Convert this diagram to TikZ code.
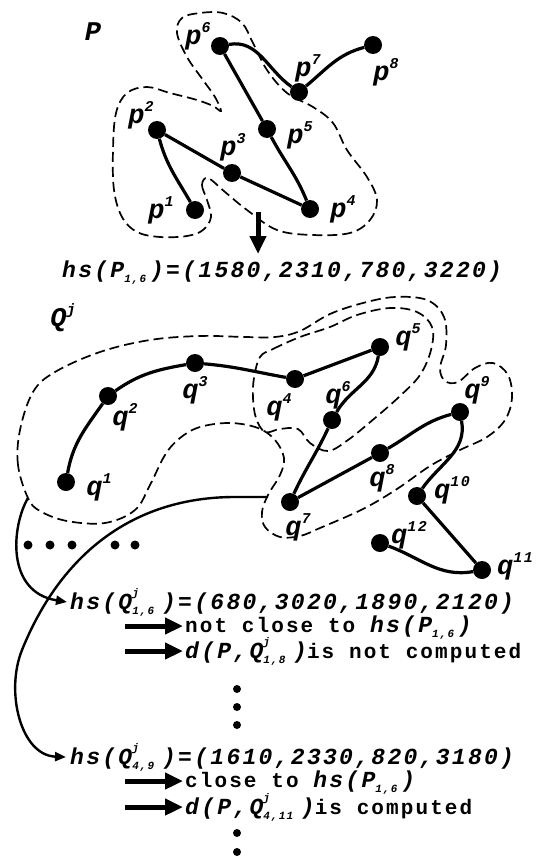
\documentclass[tikz,border=0pt]{standalone}
\usepackage{fontspec}
\setmainfont{Liberation Mono}[LetterSpace=10]
\usetikzlibrary{arrows.meta}
\newcommand\mysub[1]{\raisebox{-0.25em}{\fontsize{11}{11}\selectfont #1}}
\newcommand\mysupsub[2]{\makebox[0pt][l]{\raisebox{0.55em}{\fontsize{11}{11}\selectfont #1}}\raisebox{-0.25em}{\fontsize{11}{11}\selectfont #2}\hspace{4pt}}
\newcommand\mysup[1]{\raisebox{0.45em}{\fontsize{15}{15}\selectfont #1}}
\newcommand\myup{\fontsize{21}{23}\selectfont\upshape}
\newcommand\myit{\fontsize{23}{25}\selectfont\itshape}
\begin{document}
\begin{tikzpicture}[x=1pt,y=1pt,
  dot/.style={circle,fill=black,inner sep=0pt,minimum size=18pt},
  smalldot/.style={circle,fill=black,inner sep=0pt,minimum size=8pt},
  curve/.style={line width=3.2pt},
  outline/.style={line width=1.7pt,dash pattern=on 10pt off 5pt},
  lbl/.style={font=\fontsize{27}{30}\selectfont\bfseries\itshape,inner sep=0pt},
  txt/.style={font=\fontsize{23}{25}\selectfont\bfseries\itshape,inner sep=0pt,anchor=base west},
  plain/.style={font=\fontsize{21}{23}\selectfont\bfseries,inner sep=0pt,anchor=base west},
  bigarrow/.style={line width=5pt,-{Triangle[length=18pt,width=16pt]}},
  flow/.style={line width=2.4pt,-{Triangle[length=11pt,width=9pt]}}]
\useasboundingbox (0,0) rectangle (545,-867);

% ---------- P ----------
\draw[outline] plot[smooth cycle,tension=0.6] coordinates {
 (208,-178) (202,-185) (207,-200) (211,-217) (203,-230) (187,-236) (160,-237)
 (137,-232) (122,-217) (114,-190) (113,-150) (116,-113) (127,-93) (147,-87)
 (170,-93) (197,-100) (213,-106) (221,-111) (215,-97) (203,-80) (187,-57)
 (177,-33) (182,-18) (200,-13) (223,-13) (242,-23) (253,-43) (267,-70)
 (287,-93) (313,-107) (333,-123) (347,-150) (367,-177) (377,-200) (370,-220)
 (350,-233) (313,-235) (277,-230) (247,-210) (225,-192)};

\node[dot] (p1) at (195,-210) {};
\node[dot] (p2) at (157,-130) {};
\node[dot] (p3) at (232,-173) {};
\node[dot] (p4) at (310,-209) {};
\node[dot] (p5) at (267,-129) {};
\node[dot] (p6) at (220,-46) {};
\node[dot] (p7) at (299,-92) {};
\node[dot] (p8) at (373,-45) {};
\draw[curve] (p1) to[out=120,in=-75] (p2) -- (p3) -- (p4) to[out=112,in=-62] (p5) -- (p6)
  to[out=10,in=145] (p7) to[out=40,in=195] (p8);

\node[lbl] (lP) at (93,-32) {P};
\node[lbl] (l1) at (161,-210) {p\mysup{1}};
\node[lbl] (l2) at (141,-115) {p\mysup{2}};
\node[lbl] (l3) at (233,-147) {p\mysup{3}};
\node[lbl] (l4) at (343,-209) {p\mysup{4}};
\node[lbl] (l5) at (300,-135) {p\mysup{5}};
\node[lbl] (l6) at (198,-36) {p\mysup{6}};
\node[lbl] (l7) at (308,-68) {p\mysup{7}};
\node[lbl] (l8) at (386,-72) {p\mysup{8}};

\coordinate (pa) at (258,-212);
\node[txt] (hsP) at (62,-277) {hs(P\mysub{1,6}\,)=(1580,2310,780,3220)};
\coordinate (pb) at (258,-254);
\draw[bigarrow] (pa) -- (pb);

% ---------- Q ----------
\draw[outline] plot[smooth cycle,tension=0.6] coordinates {
 (28,-498) (18,-465) (20,-430) (33,-392) (55,-372) (100,-352) (150,-340)
 (200,-336) (245,-337) (275,-337) (300,-331) (330,-314) (363,-303) (395,-297)
 (427,-300) (444,-317) (446,-345) (440,-368) (445,-381) (458,-382) (475,-368)
 (493,-363) (508,-375) (512,-398) (505,-420) (487,-437) (460,-450) (430,-466)
 (397,-489) (363,-509) (320,-528) (300,-536) (280,-537) (265,-527) (262,-512)
 (268,-495) (280,-475) (284,-458) (275,-440) (258,-428) (230,-423) (200,-427)
 (180,-438) (165,-455) (150,-485) (135,-510) (105,-523) (67,-521) (40,-511)};
\draw[outline] plot[smooth cycle,tension=0.6] coordinates {
 (260,-357) (273,-349) (300,-337) (330,-327) (357,-315) (390,-308) (417,-312)
 (432,-327) (431,-350) (420,-375) (400,-396) (375,-418) (348,-440) (328,-451)
 (310,-443) (298,-429) (280,-429) (265,-432) (256,-418) (253,-398) (254,-378)};

\node[dot] (q1) at (66,-482) {};
\node[dot] (q2) at (108,-396) {};
\node[dot] (q3) at (195,-363) {};
\node[dot] (q4) at (295,-379) {};
\node[dot] (q5) at (380,-347) {};
\node[dot] (q6) at (332,-420) {};
\node[dot] (q7) at (290,-502) {};
\node[dot] (q8) at (380,-453) {};
\node[dot] (q9) at (460,-412) {};
\node[dot] (q10) at (417,-496) {};
\node[dot] (q11) at (482,-570) {};
\node[dot] (q12) at (380,-543) {};
\draw[curve] (q1) to[out=80,in=235] (q2) to[out=35,in=190] (q3) to[out=-5,in=170] (q4)
  -- (q5) to[out=-100,in=60] (q6) to[out=-115,in=65] (q7) -- (q8) to[out=30,in=195] (q9)
  to[out=-80,in=55] (q10) -- (q11) to[out=190,in=-20] (q12);

\node[lbl] (lQ) at (63,-318) {Q\mysup{j}};
\node[lbl] (m1) at (99,-487) {q\mysup{1}};
\node[lbl] (m2) at (125,-417) {q\mysup{2}};
\node[lbl] (m3) at (195,-390) {q\mysup{3}};
\node[lbl] (m4) at (279,-407) {q\mysup{4}};
\node[lbl] (m5) at (408,-337) {q\mysup{5}};
\node[lbl] (m6) at (338,-395) {q\mysup{6}};
\node[lbl] (m7) at (298,-527) {q\mysup{7}};
\node[lbl] (m8) at (382,-478) {q\mysup{8}};
\node[lbl] (m9) at (477,-390) {q\mysup{9}};
\node[lbl] (m10) at (452,-490) {q\mysup{10}};
\node[lbl] (m11) at (515,-566) {q\mysup{11}};
\node[lbl] (m12) at (409,-535) {q\mysup{12}};

% horizontal dots
\node[smalldot,minimum size=9pt] (h1) at (28,-545) {};
\node[smalldot,minimum size=9pt] (h2) at (50,-545) {};
\node[smalldot,minimum size=9pt] (h3) at (72,-545) {};
\node[smalldot,minimum size=9pt] (h4) at (115,-545) {};
\node[smalldot,minimum size=9pt] (h5) at (135,-545) {};

% ---------- text lines ----------
\node[txt] (hsQa) at (70,-609) {hs(Q\mysupsub{j}{1,6}\,)=(680,3020,1890,2120)};
\node[plain] (ncl) at (185,-632) {not close to \myit hs(P\mysub{1,6}\,)};
\node[plain] (dnc) at (185,-658) {\myit d(P,Q\mysupsub{j}{1,8}\,)\myup is not computed};
\node[txt] (hsQb) at (70,-764) {hs(Q\mysupsub{j}{4,9}\,)=(1610,2330,820,3180)};
\node[plain] (cl) at (185,-787) {close to \myit hs(P\mysub{1,6}\,)};
\node[plain] (dc) at (185,-814) {\myit d(P,Q\mysupsub{j}{4,11}\,)\myup is computed};

\coordinate (r1s) at (125,-626); \coordinate (r1e) at (183,-626);
\coordinate (r2s) at (125,-651); \coordinate (r2e) at (183,-651);
\coordinate (r3s) at (125,-781); \coordinate (r3e) at (183,-781);
\coordinate (r4s) at (125,-807); \coordinate (r4e) at (183,-807);
\draw[bigarrow] (r1s) -- (r1e);
\draw[bigarrow] (r2s) -- (r2e);
\draw[bigarrow] (r3s) -- (r3e);
\draw[bigarrow] (r4s) -- (r4e);

\node[smalldot] (v1) at (237,-689) {};
\node[smalldot] (v2) at (237,-707) {};
\node[smalldot] (v3) at (237,-725) {};
\node[smalldot] (v4) at (237,-833) {};
\node[smalldot] (v5) at (237,-852) {};

% ---------- curved arrows ----------
\coordinate (c1s) at (28,-498);
\coordinate (c1e) at (67,-602);
\draw[flow] (c1s) .. controls (12,-525) and (5,-592) .. (c1e);
\coordinate (c2s) at (268,-497);
\coordinate (c2m) at (235,-497);
\coordinate (c2e) at (66,-757);
\draw[flow] (c2s) -- (c2m) to[out=180,in=68] (22,-650) to[out=-112,in=178] (c2e);
\end{tikzpicture}
\end{document}
